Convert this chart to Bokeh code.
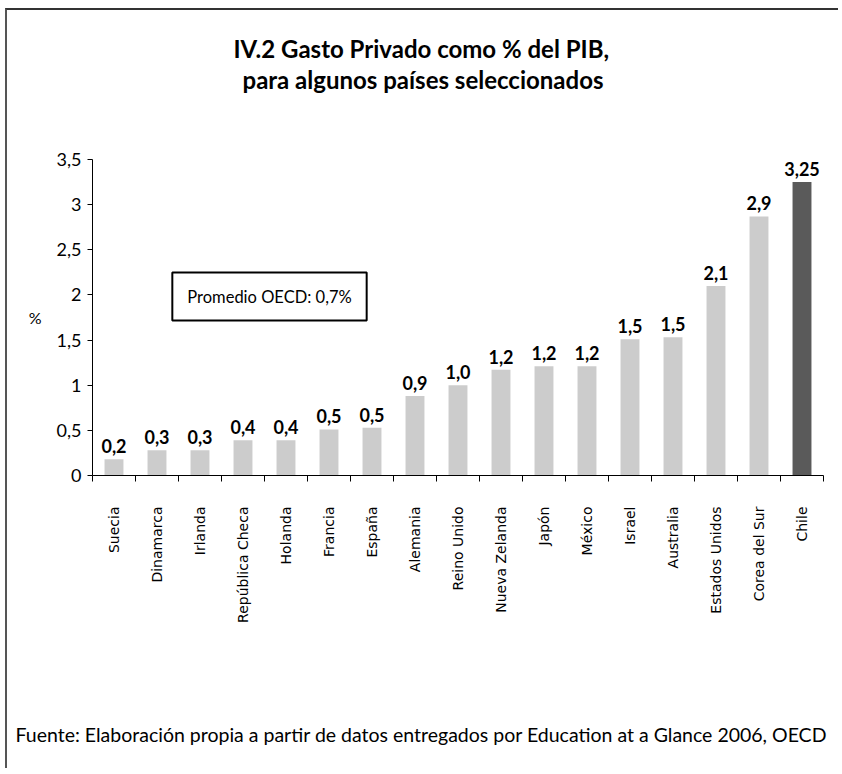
import math
from bokeh.plotting import figure
from bokeh.models import FixedTicker, Label, Range1d, CustomJSTickFormatter, Title
from bokeh.embed import file_html
from bokeh.resources import INLINE
from bokeh.core.properties import value

# ---- data ----
countries = ["Suecia", "Dinamarca", "Irlanda", "República Checa", "Holanda", "Francia",
             "España", "Alemania", "Reino Unido", "Nueva Zelanda", "Japón", "México",
             "Israel", "Australia", "Estados Unidos", "Corea del Sur", "Chile"]
values = [0.18, 0.28, 0.28, 0.39, 0.39, 0.51, 0.53, 0.88, 1.00, 1.17, 1.21, 1.21,
          1.51, 1.53, 2.10, 2.87, 3.25]
value_labels = ["0,2", "0,3", "0,3", "0,4", "0,4", "0,5", "0,5", "0,9", "1,0", "1,2",
                "1,2", "1,2", "1,5", "1,5", "2,1", "2,9", "3,25"]
y_ticks = [0, 0.5, 1, 1.5, 2, 2.5, 3, 3.5]
highlight = "Chile"

title_lines = ["IV.2 Gasto Privado como % del PIB,", "para algunos países seleccionados"]
note_text = "Promedio OECD: 0,7%"
source_text = "Fuente: Elaboración propia a partir de datos entregados por Education at a Glance 2006, OECD"

N = len(countries)
FRAME_L, FRAME_R, FRAME_T, FRAME_B = 92, 823, 159, 475
PX_X = (FRAME_R - FRAME_L) / N
PX_Y = (FRAME_B - FRAME_T) / 3.5


def dx(px):
    return -0.5 + (px - FRAME_L) / PX_X


def dy(py):
    return (FRAME_B - py) / PX_Y


xs = list(range(N))
colors = ["#5a5a5a" if c == highlight else "#cccccc" for c in countries]

W, H = 833, 760
OX, OY = 7, 10  # page offset of canvas content (margin + border)

p = figure(width=W, height=H, x_range=Range1d(-0.5, N - 0.5), y_range=Range1d(0, 3.5),
           output_backend="svg", toolbar_location=None,
           min_border_left=FRAME_L - OX, min_border_right=W + OX - FRAME_R,
           min_border_top=FRAME_T - OY, min_border_bottom=H + OY - FRAME_B,
           styles={"margin-left": "5px", "margin-top": "8px",
                   "border-left": "2px solid #555555", "border-top": "2px solid #333333"})
p.xgrid.visible = False
p.ygrid.visible = False
p.outline_line_color = None
p.background_fill_color = "white"

p.vbar(x=xs, top=values, width=0.44, fill_color=colors, line_color=None)
p.text(x=xs, y=values, text=value_labels, text_align="center", text_baseline="alphabetic",
       y_offset=-13, text_font=value("Lato"), text_font_style="bold", text_font_size="18px",
       text_color="black")

# x axis
xa = p.xaxis[0]
xa.ticker = FixedTicker(ticks=xs, minor_ticks=[i - 0.5 for i in range(N + 1)])
xa.major_label_overrides = {i: c for i, c in enumerate(countries)}
xa.major_label_orientation = math.pi / 2
xa.major_tick_in = 0
xa.major_tick_out = 0
xa.minor_tick_in = 0
xa.minor_tick_out = 6
xa.minor_tick_line_color = "black"
xa.axis_line_color = "black"
xa.major_label_standoff = 25
xa.major_label_text_font = "DejaVu Sans"
xa.major_label_text_font_size = "14px"
xa.major_label_text_color = "black"

# y axis
ya = p.yaxis[0]
ya.ticker = FixedTicker(ticks=y_ticks)
ya.formatter = CustomJSTickFormatter(code="return tick.toString().replace('.', ',');")
ya.major_tick_in = 0
ya.major_tick_out = 5
ya.minor_tick_line_color = None
ya.axis_line_color = "black"
ya.major_tick_line_color = "black"
ya.major_label_text_font = "Lato"
ya.major_label_text_font_size = "18px"
ya.major_label_text_color = "black"
ya.major_label_standoff = 6
ya.axis_label = "%"
ya.axis_label_orientation = "horizontal"
ya.axis_label_standoff = 12
ya.axis_label_text_font = "Lato"
ya.axis_label_text_font_style = "normal"
ya.axis_label_text_font_size = "16px"
ya.axis_label_text_color = "black"

# titles: panels stack outward from the frame (spacer, second line, first line)
# left-aligned with offsets from the frame's left edge so both lines centre on the page
p.add_layout(Title(text=" ", text_font_size="1px", standoff=63), "above")
p.add_layout(Title(text=title_lines[1], align="left", offset=150, text_font="Lato",
                   text_font_style="bold", text_font_size="24px", text_color="black",
                   text_line_height=0.9, standoff=0), "above")
p.add_layout(Title(text=title_lines[0], align="left", offset=141, text_font="Lato",
                   text_font_style="bold", text_font_size="24px", text_color="black",
                   standoff=0), "above")

# footer (below the axis, after a spacer)
p.add_layout(Title(text=" ", text_font_size="1px", standoff=92), "below")
p.add_layout(Title(text=source_text, align="left", offset=-77, text_font="Lato",
                   text_font_style="normal", text_font_size="19.5px", text_color="black",
                   standoff=0), "below")

p.add_layout(Label(x=dx(269), y=dy(296), text=note_text, text_align="center",
                   text_baseline="middle", text_font="Lato", text_font_size="16.5px",
                   text_color="black", border_line_color="black", border_line_width=2,
                   background_fill_color="white",
                   padding={"left": 15, "right": 15, "top": 14, "bottom": 14}))

open("out.html", "w").write(file_html(p, INLINE))
